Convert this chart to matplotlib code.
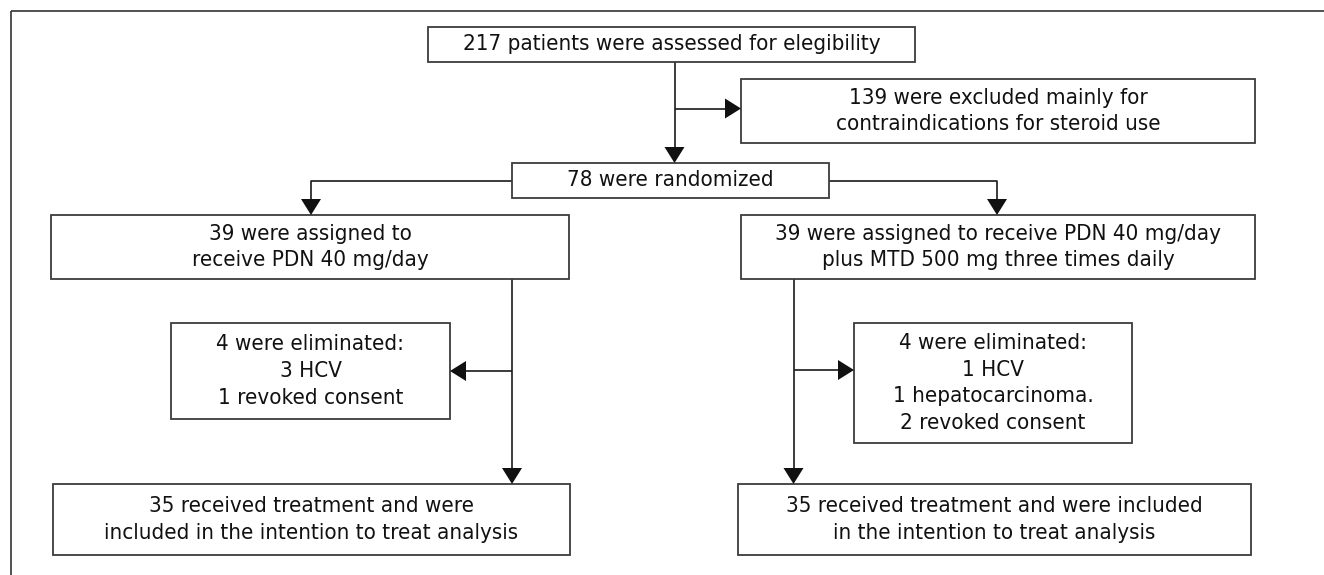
import matplotlib
matplotlib.use("Agg")
import matplotlib.pyplot as plt
from matplotlib.patches import Rectangle

# ---- content ----
box_texts = {
    "screen": ["217 patients were assessed for elegibility"],
    "excluded": ["139 were excluded mainly for", "contraindications for steroid use"],
    "random": ["78 were randomized"],
    "armA": ["39 were assigned to", "receive PDN 40 mg/day"],
    "armB": ["39 were assigned to receive PDN 40 mg/day", "plus MTD 500 mg three times daily"],
    "elimA": ["4 were eliminated:", "3 HCV", "1 revoked consent"],
    "elimB": ["4 were eliminated:", "1 HCV", "1 hepatocarcinoma.", "2 revoked consent"],
    "finalA": ["35 received treatment and were", "included in the intention to treat analysis"],
    "finalB": ["35 received treatment and were included", "in the intention to treat analysis"],
}

# layout (pixel space): x0, y0, x1, y1
boxes = {
    "screen": (428, 27, 915, 62),
    "excluded": (741, 79, 1255, 143),
    "random": (512, 163, 829, 198),
    "armA": (51, 215, 569, 279),
    "armB": (741, 215, 1255, 279),
    "elimA": (171, 323, 450, 419),
    "elimB": (854, 323, 1132, 443),
    "finalA": (53, 484, 570, 555),
    "finalB": (738, 484, 1251, 555),
}

W, H = 1324, 575
fig = plt.figure(figsize=(W / 100, H / 100), dpi=100)
ax = fig.add_axes([0, 0, 1, 1])
ax.set_xlim(0, W)
ax.set_ylim(H, 0)
ax.axis("off")

FONT = ["DejaVu Sans"]
FS = 16
BOX_COL = "#3c3c3c"
LINE_COL = "#1a1a1a"

# outer frame (cut off at right/bottom)
ax.add_patch(Rectangle((10.5, 11), W, H, fill=False, lw=1.2, ec="#333333"))

for key, (x0, y0, x1, y1) in boxes.items():
    ax.add_patch(Rectangle((x0, y0), x1 - x0, y1 - y0, fill=True, fc="white",
                           lw=1.3, ec=BOX_COL, zorder=3))
    lines = box_texts[key]
    n = len(lines)
    gap = 26.7
    cy = (y0 + y1) / 2
    for i, t in enumerate(lines):
        y = cy + (i - (n - 1) / 2) * gap
        ax.text((x0 + x1) / 2, y, t, ha="center", va="center", fontsize=FS,
                family=FONT, fontstretch="condensed", color="#111111", zorder=4)


def seg(xs, ys):
    ax.plot(xs, ys, color=LINE_COL, lw=1.2, solid_capstyle="butt", zorder=2)


def arrow_to(x, y, dx, dy):
    # arrow ending at (x, y), coming from direction (dx, dy) unit
    L, Wd = 16, 20
    bx, by = x - dx * L, y - dy * L
    px, py = -dy, dx
    pts = [(x, y), (bx + px * Wd / 2, by + py * Wd / 2), (bx - px * Wd / 2, by - py * Wd / 2)]
    ax.add_patch(plt.Polygon(pts, closed=True, fc="#111111", ec="none", zorder=5))


# screen -> random
xs = 674.5
seg([xs, xs], [62, 150])
arrow_to(xs, 163, 0, 1)
# branch to excluded
seg([xs, 728], [108.5, 108.5])
arrow_to(741, 108.5, 1, 0)

# random -> arms
seg([512, 311, 311], [181, 181, 200])
arrow_to(311, 215, 0, 1)
seg([829, 997, 997], [181, 181, 200])
arrow_to(997, 215, 0, 1)

# arm A
seg([512, 512], [279, 470])
arrow_to(512, 484, 0, 1)
seg([512, 463], [371, 371])
arrow_to(450, 371, -1, 0)

# arm B
seg([793.5, 793.5], [279, 470])
arrow_to(793.5, 484, 0, 1)
seg([793.5, 841], [370, 370])
arrow_to(854, 370, 1, 0)

fig.savefig("out.png", dpi=100)
